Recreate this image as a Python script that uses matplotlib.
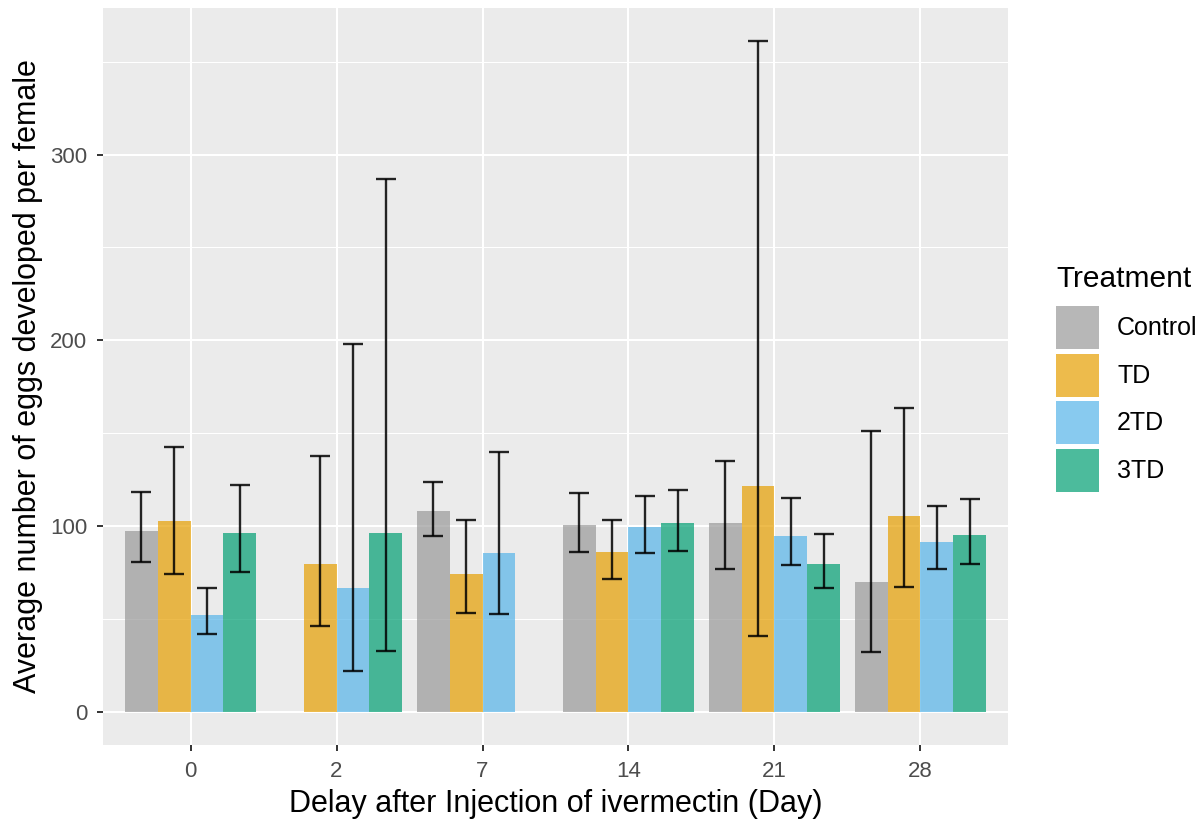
import numpy as np
import matplotlib
matplotlib.use("Agg")
import matplotlib.pyplot as plt
from matplotlib.patches import Patch
from matplotlib.ticker import MultipleLocator

# ── Data ──────────────────────────────────────────────────────────────────────
days = ["0", "2", "7", "14", "21", "28"]
treatments = ["Control", "TD", "2TD", "3TD"]
colors = ["#999999", "#E69F00", "#56B4E9", "#009E73"]

mean_control = [97.3, np.nan, 108.1, 100.5, 101.5, 69.8]
mean_td      = [102.7, 79.7, 74.1, 86.0, 121.3, 105.2]
mean_2td     = [52.2, 66.4, 85.3, 99.3, 94.8, 91.6]
mean_3td     = [96.1, 96.1, np.nan, 101.5, 79.7, 95.0]

lo_control = [80.4, np.nan, 94.4, 86.2, 76.8, 32.0]
hi_control = [118.5, np.nan, 123.8, 118.0, 135.1, 150.9]
lo_td      = [73.9, 46.0, 53.2, 71.6, 40.6, 66.9]
hi_td      = [142.6, 137.6, 103.4, 103.4, 361.0, 163.3]
lo_2td     = [41.7, 22.1, 52.5, 85.6, 78.8, 76.8]
hi_2td     = [66.7, 198.0, 139.8, 115.9, 115.1, 110.6]
lo_3td     = [75.4, 32.4, np.nan, 86.7, 66.5, 79.7]
hi_3td     = [122.3, 287.0, np.nan, 119.1, 95.9, 114.4]

means = [mean_control, mean_td, mean_2td, mean_3td]
lows = [lo_control, lo_td, lo_2td, lo_3td]
highs = [hi_control, hi_td, hi_2td, hi_3td]

FONT = "Liberation Sans"

# ── Figure ────────────────────────────────────────────────────────────────────
fig = plt.figure(figsize=(12.03, 8.21), dpi=100)
ax = fig.add_axes([103 / 1203, 1 - 745 / 821, (1008 - 103) / 1203, (745 - 8) / 821])
ax.set_facecolor("#EBEBEB")
for s in ax.spines.values():
    s.set_visible(False)

x = np.arange(len(days))
bw = 0.9 / len(treatments)
for j, (name, col) in enumerate(zip(treatments, colors)):
    xs = x + (j - 1.5) * bw
    m = np.array(means[j], dtype=float)
    lo = np.array(lows[j], dtype=float)
    hi = np.array(highs[j], dtype=float)
    ok = ~np.isnan(m)
    ax.bar(xs[ok], m[ok], width=bw, color=col, alpha=0.7, linewidth=0,
           zorder=2, label=name)
    ax.errorbar(xs[ok], m[ok], yerr=[m[ok] - lo[ok], hi[ok] - m[ok]],
                fmt="none", ecolor="black", elinewidth=1.7, capsize=7.5,
                capthick=1.7, alpha=0.85, zorder=3)

ax.set_xlim(-0.6, len(days) - 0.4)
ax.set_ylim(-18, 379)
ax.set_xticks(x)
ax.set_xticklabels(days)
ax.yaxis.set_major_locator(MultipleLocator(100))
ax.yaxis.set_minor_locator(MultipleLocator(50))
ax.grid(which="major", color="white", linewidth=1.5, zorder=0)
ax.grid(which="minor", axis="y", color="white", linewidth=0.75, zorder=0)
ax.set_axisbelow(True)
ax.tick_params(which="major", length=4.3, width=1.4, color="#333333",
               labelsize=16, labelcolor="#4D4D4D", pad=7)
ax.tick_params(which="minor", length=0)
for lab in ax.get_xticklabels() + ax.get_yticklabels():
    lab.set_family(FONT)

ax.set_xlabel("Delay after Injection of ivermectin (Day)", fontsize=22,
              family=FONT, color="black", labelpad=5)
ax.set_ylabel("Average number of eggs developed per female", fontsize=22,
              family=FONT, color="black", labelpad=5)

# legend — title drawn separately so the gap to the keys matches ggplot
fig.text(1056 / 1203, 1 - 287 / 821, "Treatment", family=FONT, size=21.5,
         ha="left", va="baseline")
handles = [Patch(facecolor=c, alpha=0.7, edgecolor="none") for c in colors]
leg = fig.legend(handles, treatments, loc="upper left",
                 bbox_to_anchor=(1056 / 1203, 1 - 306 / 821),
                 frameon=False,
                 prop={"family": FONT, "size": 18},
                 handlelength=1.72, handleheight=2.27, labelspacing=0.18,
                 handletextpad=0.72, borderaxespad=0, borderpad=0)

fig.savefig("out.png", dpi=100, facecolor="white")
